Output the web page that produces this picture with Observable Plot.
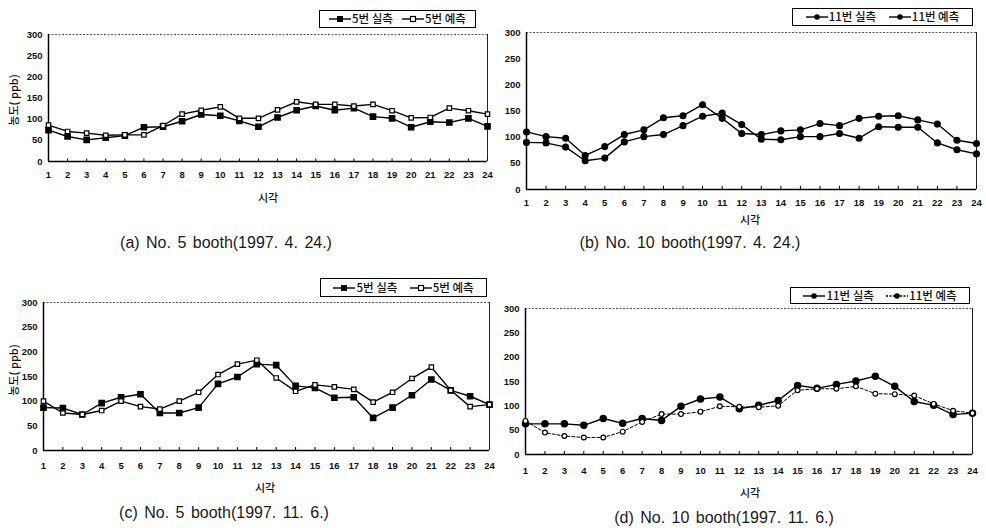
<!DOCTYPE html>
<html>
<head>
<meta charset="utf-8">
<script src="https://cdn.jsdelivr.net/npm/d3@7"></script>
<script src="https://cdn.jsdelivr.net/npm/@observablehq/plot@0.6"></script>
<style>
  body { margin: 0; background: #fff; }
  #wrap { position: relative; width: 986px; height: 528px; overflow: hidden; background: #fff; }
  .layer { position: absolute; left: 0; top: 0; }
  .kl { position: absolute; font-family: "Noto Sans CJK KR", sans-serif; font-size: 11px; font-weight: 500; color: #111; transform: translate(-50%, -50%); white-space: nowrap; line-height: 1; }
  .yl { position: absolute; font-family: "Noto Sans CJK KR", sans-serif; font-size: 11px; font-weight: 500; color: #111; transform: translate(-50%, -50%) rotate(-90deg); white-space: nowrap; line-height: 1; }
  .cap { position: absolute; font-family: "Liberation Sans", Arial, sans-serif; font-size: 16px; color: #1a1a1a; transform: translate(-50%, -50%); white-space: pre; word-spacing: 2px; line-height: 1; }
  .leg { position: absolute; box-sizing: border-box; border: 1px solid #000; background: #fff; display: flex; align-items: center; justify-content: space-evenly; font-family: "Noto Sans CJK KR", sans-serif; font-size: 11.5px; font-weight: 500; color: #111; line-height: 1; }
  .leg span { display: inline-flex; align-items: center; white-space: nowrap; }
  .leg svg { margin-right: 1px; }
</style>
</head>
<body>
<div id="wrap"></div>
<script>
// ---- data ----
const hours = [1,2,3,4,5,6,7,8,9,10,11,12,13,14,15,16,17,18,19,20,21,22,23,24];
const yTicks = [0, 50, 100, 150, 200, 250, 300];

// (a) No. 5 booth 1997.4.24
const aMeasured  = [74,59,51,56,61,81,82,95,111,108,96,82,104,121,131,121,126,106,102,81,94,92,102,83];
const aPredicted = [86,71,67,62,63,63,85,112,121,129,102,102,122,141,135,135,131,135,120,103,104,126,120,112];
// (b) No. 10 booth 1997.4.24
const bMeasured  = [110,101,98,65,82,105,114,137,141,162,136,107,105,112,114,126,122,136,140,141,133,125,94,88];
const bPredicted = [90,89,81,55,60,91,101,105,122,140,146,124,96,95,101,101,107,98,120,119,119,89,76,68];
// (c) No. 5 booth 1997.11.6
const cMeasured  = [87,86,73,96,108,114,76,76,87,135,149,175,173,131,127,107,108,66,87,112,144,122,110,93];
const cPredicted = [100,76,73,81,100,89,84,100,118,154,175,183,147,120,133,129,124,98,118,146,169,122,89,93];
// (d) No. 10 booth 1997.11.6
const dMeasured  = [63,63,63,60,74,64,74,70,99,114,118,94,101,111,142,136,144,151,161,140,109,101,82,85];
const dPredicted = [69,45,38,35,35,47,67,83,83,88,99,98,97,100,132,135,135,140,125,124,121,104,90,85];

const seriesNames = {
  a: ["5번 실측", "5번 예측"],
  b: ["11번 실측", "11번 예측"],
  c: ["5번 실측", "5번 예측"],
  d: ["11번 실측", "11번 예측"]
};
const captions = {
  a: "(a) No. 5 booth(1997. 4. 24.)",
  b: "(b) No. 10 booth(1997. 4. 24.)",
  c: "(c) No. 5 booth(1997. 11. 6.)",
  d: "(d) No. 10 booth(1997. 11. 6.)"
};

// ---- layout (pixel frame of each panel) ----
const W = 986, H = 528;
const panels = [
  {id: "a", m: aMeasured, p: aPredicted, x1: 48,  x24: 487, y0: 161, y300: 34,  tp: 10, kind: "square",
   xl: [268, 197], yl: [13, 100], leg: [319, 10, 157, 18], cap: [226, 243]},
  {id: "b", m: bMeasured, p: bPredicted, x1: 526, x24: 976, y0: 189, y300: 32,  tp: 10, kind: "circle",
   xl: [750, 219], yl: null, leg: [792, 8, 181, 18], cap: [690, 243]},
  {id: "c", m: cMeasured, p: cPredicted, x1: 43,  x24: 489, y0: 450, y300: 302, tp: 12, kind: "square",
   xl: [265, 487], yl: [13, 370], leg: [320, 278, 167, 19], cap: [224, 513]},
  {id: "d", m: dMeasured, p: dPredicted, x1: 525, x24: 972, y0: 454, y300: 308, tp: 13, kind: "circle-open",
   xl: [750, 492], yl: null, leg: [790, 287, 180, 17], cap: [724, 518]}
];

const wrap = document.getElementById("wrap");

function drawPanel(cfg) {
  const data = hours.map((h, i) => ({h, m: cfg.m[i], p: cfg.p[i]}));
  const isSquare = cfg.kind === "square";
  const sym = isSquare ? "square" : "circle";
  const marks = [
    Plot.axisY({ticks: yTicks, tickSize: 0, tickPadding: 6, label: null, fontSize: 9.5, fontWeight: "bold", fill: "#111"}),
    Plot.axisX({ticks: hours, tickSize: 0, tickPadding: cfg.tp, label: null, fontSize: 9.5, fontWeight: "bold", fill: "#111"}),
    Plot.ruleY([300], {stroke: "#555", strokeWidth: 1, strokeDasharray: "2,1.5"}),
    Plot.ruleX([24], {stroke: "#222", strokeWidth: 1}),
    Plot.ruleX(hours, {y1: 0, y2: 6, stroke: "#000", strokeWidth: 1}),
    Plot.ruleY([0], {stroke: "#000", strokeWidth: 1.5}),
    Plot.ruleX([1], {stroke: "#000", strokeWidth: 1.5})
  ];
  if (cfg.kind === "circle-open") {
    marks.push(
      Plot.lineY(data, {x: "h", y: "p", stroke: "#000", strokeWidth: 1, strokeDasharray: "3,2"}),
      Plot.lineY(data, {x: "h", y: "m", stroke: "#000", strokeWidth: 1.4}),
      Plot.dot(data, {x: "h", y: "m", r: 3, symbol: "circle", fill: "#000", stroke: "#000"}),
      Plot.dot(data, {x: "h", y: "p", r: 2.4, symbol: "circle", fill: "#fff", stroke: "#000", strokeWidth: 1.2})
    );
  } else if (cfg.kind === "circle") {
    marks.push(
      Plot.lineY(data, {x: "h", y: "p", stroke: "#000", strokeWidth: 1.4}),
      Plot.lineY(data, {x: "h", y: "m", stroke: "#000", strokeWidth: 1.4}),
      Plot.dot(data, {x: "h", y: "p", r: 2.8, symbol: "circle", fill: "#000", stroke: "#000"}),
      Plot.dot(data, {x: "h", y: "m", r: 2.8, symbol: "circle", fill: "#000", stroke: "#000"})
    );
  } else {
    marks.push(
      Plot.lineY(data, {x: "h", y: "p", stroke: "#000", strokeWidth: 1.4}),
      Plot.lineY(data, {x: "h", y: "m", stroke: "#000", strokeWidth: 1.4}),
      Plot.dot(data, {x: "h", y: "m", r: 2.9, symbol: sym, fill: "#000", stroke: "#000"}),
      Plot.dot(data, {x: "h", y: "p", r: 2.5, symbol: sym, fill: "#fff", stroke: "#000", strokeWidth: 1.2})
    );
  }
  const svg = Plot.plot({
    width: W, height: H,
    marginLeft: cfg.x1, marginRight: W - cfg.x24, marginTop: cfg.y300, marginBottom: H - cfg.y0,
    x: {type: "linear", domain: [1, 24]},
    y: {type: "linear", domain: [0, 300]},
    style: {background: "transparent", fontFamily: "'Liberation Sans Narrow', 'Liberation Sans', Arial, sans-serif", fontSize: "9.5px", color: "#111", overflow: "visible"},
    marks
  });
  svg.classList.add("layer");
  svg.style.position = "absolute";
  svg.style.left = "0px";
  svg.style.top = "0px";
  svg.style.maxWidth = "none";
  wrap.appendChild(svg);

  // axis titles
  const xl = document.createElement("div");
  xl.className = "kl"; xl.textContent = "시각";
  xl.style.left = cfg.xl[0] + "px"; xl.style.top = cfg.xl[1] + "px";
  wrap.appendChild(xl);
  if (cfg.yl) {
    const yl = document.createElement("div");
    yl.className = "yl"; yl.textContent = "농도( ppb)";
    yl.style.left = cfg.yl[0] + "px"; yl.style.top = cfg.yl[1] + "px";
    wrap.appendChild(yl);
  }
  // legend
  const leg = document.createElement("div");
  leg.className = "leg";
  leg.style.left = cfg.leg[0] + "px"; leg.style.top = cfg.leg[1] + "px";
  leg.style.width = cfg.leg[2] + "px"; leg.style.height = cfg.leg[3] + "px";
  const names = seriesNames[cfg.id];
  function glyph(which) {
    let dash = "";
    let m;
    if (isSquare) {
      m = which === 0
        ? `<rect x="8" y="3" width="6" height="6" fill="#000"/>`
        : `<rect x="8.5" y="3.5" width="5" height="5" fill="#fff" stroke="#000" stroke-width="1.2"/>`;
    } else {
      m = `<circle cx="11" cy="6" r="2.8" fill="#000"/>`;
      if (cfg.kind === "circle-open" && which === 1) dash = ` stroke-dasharray="2,1.5"`;
    }
    return `<svg width="22" height="12" viewBox="0 0 22 12"><line x1="0" y1="6" x2="22" y2="6" stroke="#000" stroke-width="1.4"${dash}/>${m}</svg>`;
  }
  leg.innerHTML = `<span>${glyph(0)}${names[0]}</span><span>${glyph(1)}${names[1]}</span>`;
  wrap.appendChild(leg);
  // caption
  const cap = document.createElement("div");
  cap.className = "cap"; cap.textContent = captions[cfg.id];
  cap.style.left = cfg.cap[0] + "px"; cap.style.top = cfg.cap[1] + "px";
  wrap.appendChild(cap);
}

panels.forEach(drawPanel);
</script>
</body>
</html>
